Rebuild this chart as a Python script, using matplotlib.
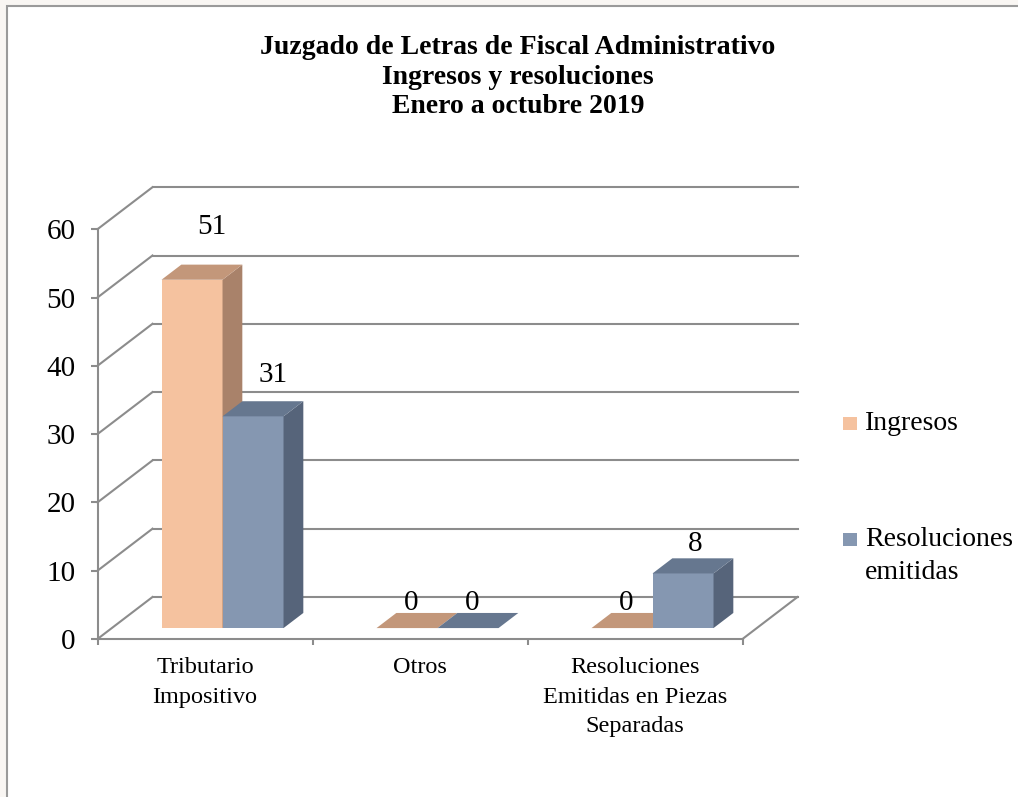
import matplotlib
matplotlib.use("Agg")
import matplotlib.pyplot as plt
from matplotlib.patches import Rectangle

# datos del grafico
categories = ["Tributario\nImpositivo", "Otros", "Resoluciones\nEmitidas en Piezas\nSeparadas"]
series_names = ["Ingresos", "Resoluciones\nemitidas"]
ingresos = [51, 0, 0]
resoluciones = [31, 0, 8]
y_ticks = [0, 10, 20, 30, 40, 50, 60]
title = "Juzgado de Letras de Fiscal Administrativo\nIngresos y resoluciones\nEnero a octubre 2019"

# colores: frente, lado, arriba
peach = ("#F5C29F", "#A9826A", "#C3977A")
blue = ("#8597B1", "#56647A", "#66778F")
grid_c = "#8C8C8C"
font = "Liberation Serif"

W, H = 1018, 797
fig = plt.figure(figsize=(W / 100, H / 100), dpi=100)
fig.patch.set_facecolor("#F9F6F3")
fig.patches.append(Rectangle((7 / W, -0.01), 1, 1.01 - 6 / H, transform=fig.transFigure,
                             facecolor="white", edgecolor="#9A9A9A", lw=1.5, zorder=-5))

# geometria de la proyeccion oblicua (pixeles)
X0, Y0 = 97.5, 639
PX_CAT, PX_VAL = 215.0, 6.83
DX, DY = 55 / PX_CAT, 42 / PX_VAL
ncat = len(categories)
ymax = y_ticks[-1]

ax = fig.add_axes([X0 / W, (H - Y0) / H, (ncat + DX) * PX_CAT / W, (ymax + DY) * PX_VAL / H])
ax.set_xlim(0, ncat + DX)
ax.set_ylim(0, ymax + DY)
ax.patch.set_visible(False)
for s in ["top", "right"]:
    ax.spines[s].set_visible(False)
for s in ["left", "bottom"]:
    ax.spines[s].set_color(grid_c)
    ax.spines[s].set_linewidth(1.5)
ax.spines["left"].set_bounds(0, ymax)
ax.spines["bottom"].set_bounds(0, ncat)

ax.set_yticks(y_ticks)
ax.tick_params(axis="y", length=5, width=1.5, color=grid_c, labelsize=21, pad=11)
ax.set_xticks(range(ncat + 1))
ax.set_xticklabels([])
ax.set_xticks([i + 0.5 for i in range(ncat)], minor=True)
ax.set_xticklabels(categories, minor=True, fontsize=17.5, linespacing=1.53)
ax.tick_params(axis="x", which="major", length=4.5, width=1.5, color=grid_c)
ax.tick_params(axis="x", which="minor", length=0, pad=13)
for lab in ax.get_yticklabels() + ax.get_xticklabels(minor=True):
    lab.set_family(font)

# paredes y cuadricula
for v in y_ticks:
    ax.plot([0, DX], [v, v + DY], color=grid_c, lw=1.5, zorder=1, clip_on=False)
    ax.plot([DX, ncat + DX], [v + DY, v + DY], color=grid_c, lw=1.5, zorder=1, clip_on=False)
ax.plot([ncat, ncat + DX], [0, DY], color=grid_c, lw=1.5, zorder=1, clip_on=False)

# barras 3D
D0, D1 = 0.26, 0.62
bar_w = 61 / PX_CAT
ddx, ddy = (D1 - D0) * DX, (D1 - D0) * DY
base = D0 * DY
z = 3
for i in range(ncat):
    center = i + 0.5 + D0 * DX + 0.015
    for k, (vals, cols) in enumerate([(ingresos, peach), (resoluciones, blue)]):
        v = vals[i]
        xl = center - bar_w + k * bar_w
        xr = xl + bar_w
        ax.bar(xl, v, width=bar_w, bottom=base, align="edge", color=cols[0], lw=0, zorder=z)
        ax.fill([xr, xr + ddx, xr + ddx, xr], [base, base + ddy, base + ddy + v, base + v],
                color=cols[1], lw=0, zorder=z)
        ax.fill([xl, xr, xr + ddx, xl + ddx], [base + v, base + v, base + v + ddy, base + v + ddy],
                color=cols[2], lw=0, zorder=z)
        z += 1
        # etiqueta: cerca del frente si es cero, hacia el fondo si la barra es alta
        lx = xl + bar_w / 2 + ddx * min(1.0, 0.2 + v / 20)
        ax.text(lx, base + v + 3.6 + 0.08 * v, str(v), ha="center", va="center",
                fontsize=21, family=font, zorder=20)

# leyenda
for k, (name, cols, yc) in enumerate(zip(series_names, [peach, blue], [423, 539])):
    fig.patches.append(Rectangle((843 / W, 1 - (yc + 7) / H), 14 / W, 13 / H,
                                 transform=fig.transFigure, facecolor=cols[0], lw=0))
    nl = name.count("\n")
    fig.text(865 / W, 1 - (yc + nl * 17) / H, name, ha="left", va="center",
             fontsize=20, family=font, linespacing=1.42)

fig.text(518 / W, 1 - 77 / H, title, ha="center", va="center", fontsize=20,
         fontweight="bold", family=font, linespacing=1.22)

fig.savefig("out.png", dpi=100)
